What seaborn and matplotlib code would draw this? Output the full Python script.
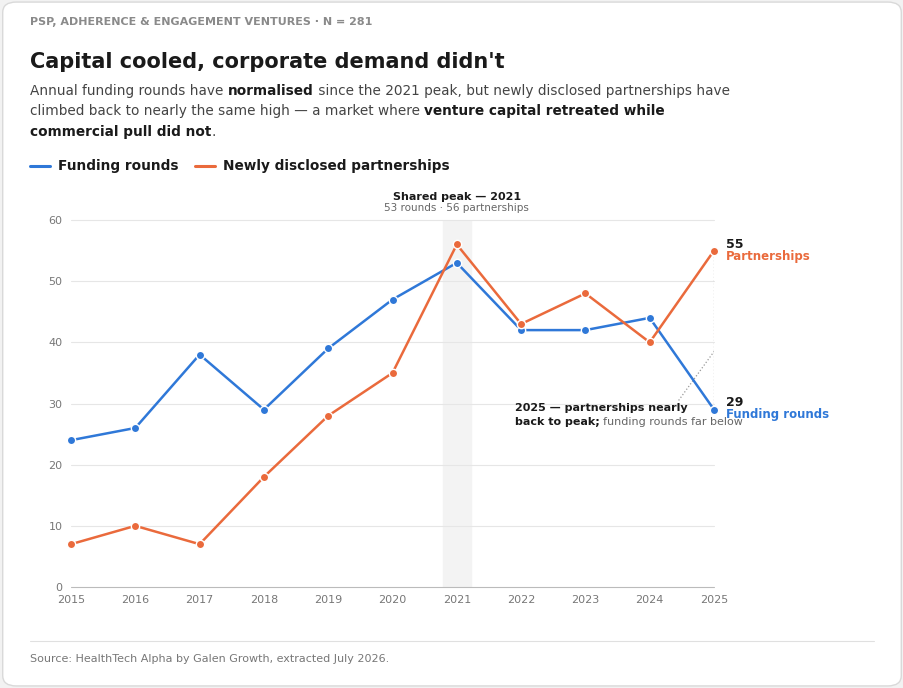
import matplotlib
matplotlib.use("Agg")
import matplotlib.pyplot as plt
import seaborn as sns
import pandas as pd
from matplotlib.patches import FancyBboxPatch

years = list(range(2015, 2026))
funding_rounds = [24, 26, 38, 29, 39, 47, 53, 42, 42, 44, 29]
partnerships = [7, 10, 7, 18, 28, 35, 56, 43, 48, 40, 55]

BLUE = "#2f78d8"
ORANGE = "#ea6a3c"
DARK = "#1a1a1a"
GREY = "#666666"

sns.set_theme(style="white")
plt.rcParams['font.family'] = ['DejaVu Sans']

df = pd.DataFrame({"year": years * 2,
                   "value": funding_rounds + partnerships,
                   "series": ["Funding rounds"] * 11 + ["Newly disclosed partnerships"] * 11})

fig = plt.figure(figsize=(9.04, 6.88), dpi=100)
fig.patch.set_facecolor("#f2f2f2")
card = FancyBboxPatch((0.003, 0.003), 0.994, 0.994, boxstyle="round,pad=0,rounding_size=0.015",
                      transform=fig.transFigure, facecolor="white", edgecolor="#d9d9d9", lw=1, zorder=-10)
fig.patches.append(card)

ax = fig.add_axes([71 / 904, 101 / 688, (714 - 71) / 904, (587 - 220) / 688])
ax.set_facecolor("none")
ax.axvspan(2020.78, 2021.22, color="#f3f3f3", zorder=0)
sns.lineplot(data=df, x="year", y="value", hue="series", palette=[BLUE, ORANGE], marker="o",
             markersize=6, markeredgecolor="white", markeredgewidth=1, lw=1.8, ax=ax, legend=False, zorder=3)
ax.set_xlim(2015, 2025)
ax.set_ylim(0, 60)
ax.set_xticks(years)
ax.set_yticks(range(0, 61, 10))
ax.tick_params(labelsize=8, colors="#777777", length=0, pad=6)
ax.set_xlabel("")
ax.set_ylabel("")
for y in range(10, 61, 10):
    ax.axhline(y, color="#e6e6e6", lw=0.8, zorder=1)
ax.axhline(0, color="#bbbbbb", lw=0.8, zorder=1)
for s in ax.spines.values():
    s.set_visible(False)
for ln in ax.lines:
    ln.set_clip_on(False)

# annotations
ax.text(2021, 63.2, "Shared peak — 2021", ha="center", fontsize=8, fontweight="bold", color=DARK)
ax.text(2021, 61.5, "53 rounds · 56 partnerships", ha="center", fontsize=7.5, color=GREY)
ax.plot([2025, 2025], [29, 55], ls=":", color="#999999", lw=0.9, zorder=2)
ax.plot([2024.45, 2025], [30.5, 38.5], ls=":", color="#999999", lw=0.9, zorder=2)
ax.text(2025.18, 56, "55", fontsize=9, fontweight="bold", color=DARK, va="center")
ax.text(2025.18, 54, "Partnerships", fontsize=8.5, fontweight="bold", color=ORANGE, va="center")
ax.text(2025.18, 30.2, "29", fontsize=9, fontweight="bold", color=DARK, va="center")
ax.text(2025.18, 28.2, "Funding rounds", fontsize=8.5, fontweight="bold", color=BLUE, va="center")
ax.text(2021.9, 29.2, "2025 — partnerships nearly", fontsize=8, fontweight="bold", color=DARK, va="center")

fig.canvas.draw()
renderer = fig.canvas.get_renderer()


def rich(x, y, parts, size):
    # draw text segments one after another, in pixel coords
    for txt, weight, color in parts:
        t = fig.text(x / 904, 1 - y / 688, txt, fontsize=size, fontweight=weight, color=color, va="baseline")
        bb = t.get_window_extent(renderer)
        x += bb.width
    return x


x0, y0 = ax.transData.transform((2021.9, 26.9))
rich(x0, 688 - y0 + 3, [("back to peak; ", "bold", DARK), ("funding rounds far below", "normal", GREY)], 8)

fig.text(30 / 904, 1 - 25 / 688, "PSP, ADHERENCE & ENGAGEMENT VENTURES · N = 281", fontsize=8,
         fontweight="bold", color="#8a8a8a", va="baseline")
fig.text(30 / 904, 1 - 68 / 688, "Capital cooled, corporate demand didn't", fontsize=15,
         fontweight="bold", color=DARK, va="baseline")
rich(30, 95, [("Annual funding rounds have ", "normal", "#444444"), ("normalised", "bold", DARK),
              (" since the 2021 peak, but newly disclosed partnerships have", "normal", "#444444")], 9.8)
rich(30, 115, [("climbed back to nearly the same high — a market where ", "normal", "#444444"),
               ("venture capital retreated while", "bold", DARK)], 9.8)
rich(30, 136, [("commercial pull did not", "bold", DARK), (".", "normal", "#444444")], 9.8)

# legend
for lx, label, c in [(30, "Funding rounds", BLUE), (195, "Newly disclosed partnerships", ORANGE)]:
    fig.add_artist(plt.Line2D([lx / 904, (lx + 20) / 904], [1 - 166 / 688] * 2, color=c, lw=2.2))
    fig.text((lx + 28) / 904, 1 - 166 / 688, label, fontsize=9.8, fontweight="bold", color=DARK, va="center")

fig.add_artist(plt.Line2D([30 / 904, 874 / 904], [1 - 641 / 688] * 2, color="#e0e0e0", lw=0.8))
fig.text(30 / 904, 1 - 662 / 688, "Source: HealthTech Alpha by Galen Growth, extracted July 2026.",
         fontsize=8, color="#777777", va="baseline")

fig.savefig("out.png", dpi=100, facecolor=fig.get_facecolor())
